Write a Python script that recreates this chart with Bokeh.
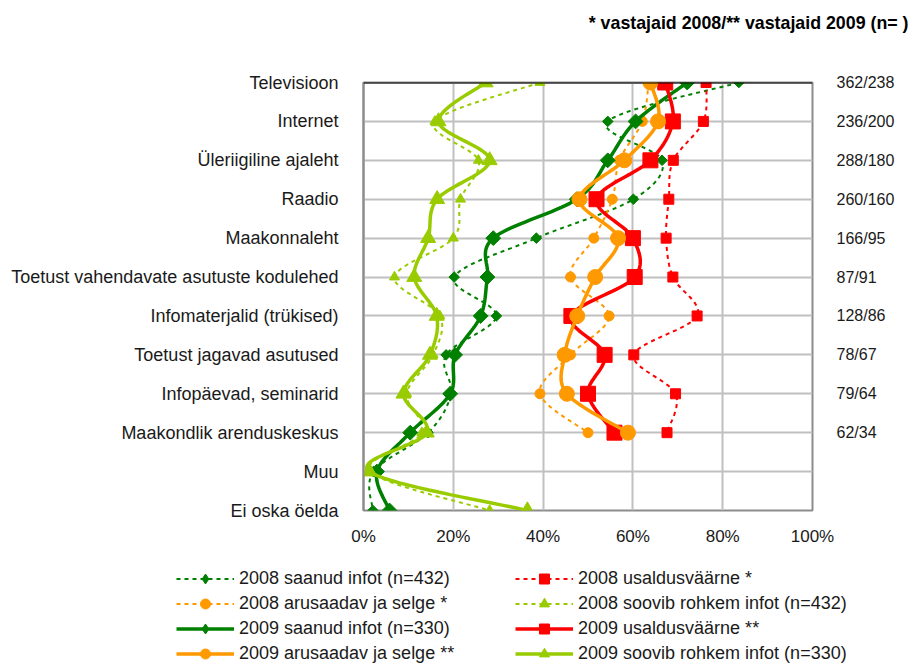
import numpy as np
from bokeh.plotting import figure
from bokeh.layouts import column
from bokeh.models import (Range1d, FixedTicker, Legend, LegendItem, LinearAxis, Span, Label)
from bokeh.embed import file_html
from bokeh.resources import INLINE

# ---------------- data ----------------
categories = ["Televisioon", "Internet", "Üleriigiline ajaleht", "Raadio", "Maakonnaleht",
              "Toetust vahendavate asutuste kodulehed", "Infomaterjalid (trükised)",
              "Toetust jagavad asutused", "Infopäevad, seminarid", "Maakondlik arenduskeskus",
              "Muu", "Ei oska öelda"]
n_labels = ["362/238", "236/200", "288/180", "260/160", "166/95", "87/91", "128/86",
            "78/67", "79/64", "62/34", "", ""]
x_ticks = [0, 20, 40, 60, 80, 100]
x_tick_labels = ["0%", "20%", "40%", "60%", "80%", "100%"]
title_text = "* vastajaid 2008/** vastajaid 2009 (n= )"

saanud_2008 = [83.6, 54.4, 66.5, 60.1, 38.5, 20.2, 29.6, 18.4, 19.5, 14.4, 2.2, 2.1]
usaldus_2008 = [76.3, 75.7, 69.0, 68.0, 67.4, 68.9, 74.3, 60.2, 69.5, 67.6]
arusaadav_2008 = [63.5, 62.1, 57.0, 55.4, 51.3, 46.1, 54.7, 46.1, 39.3, 50.0]
soovib_2008 = [39.3, 15.9, 25.6, 21.6, 20.0, 6.9, 17.0, 15.5, 9.6, 13.0, 1.5, 28.1]
saanud_2009 = [72.1, 60.6, 54.4, 47.5, 28.9, 27.6, 26.1, 20.4, 19.3, 10.4, 3.0, 5.8]
usaldus_2009 = [67.2, 68.9, 63.9, 51.9, 60.0, 60.4, 46.3, 53.7, 50.0, 55.9]
arusaadav_2009 = [63.9, 65.6, 58.1, 48.1, 56.7, 51.6, 47.6, 44.8, 45.3, 58.9]
soovib_2009 = [27.2, 16.7, 28.1, 16.4, 14.4, 11.3, 16.3, 14.8, 8.9, 14.1, 1.3, 36.5]

series = [
    ("2008 saanud infot (n=432)", saanud_2008, "#008000", "diamond", 2008),
    ("2008 usaldusväärne *", usaldus_2008, "#FF0000", "square", 2008),
    ("2008 arusaadav ja selge *", arusaadav_2008, "#FF9900", "circle", 2008),
    ("2008 soovib rohkem infot (n=432)", soovib_2008, "#99CC00", "triangle", 2008),
    ("2009 saanud infot (n=330)", saanud_2009, "#008000", "diamond", 2009),
    ("2009 usaldusväärne **", usaldus_2009, "#FF0000", "square", 2009),
    ("2009 arusaadav ja selge **", arusaadav_2009, "#FF9900", "circle", 2009),
    ("2009 soovib rohkem infot (n=330)", soovib_2009, "#99CC00", "triangle", 2009),
]

FONT = "Liberation Sans"
N = len(categories)
ypos = [N - 1 - i for i in range(N)]
W = 911


def smooth(xs, ys, steps=20):
    pts = np.column_stack([xs, ys]).astype(float)
    n = len(pts)
    out = [pts[0]]
    for i in range(n - 1):
        p0 = pts[i - 1] if i > 0 else pts[i]
        p1 = pts[i]
        p2 = pts[i + 1]
        p3 = pts[i + 2] if i + 2 < n else pts[i + 1]
        c1 = p1 + (p2 - p0) / 6.0
        c2 = p2 - (p3 - p1) / 6.0
        for t in np.linspace(0, 1, steps)[1:]:
            b = ((1 - t) ** 3) * p1 + 3 * ((1 - t) ** 2) * t * c1 + 3 * (1 - t) * t * t * c2 + (t ** 3) * p2
            out.append(b)
    out = np.array(out)
    return out[:, 0], out[:, 1]


def blank_fig(h, x0=0):
    f = figure(width=W, height=h, output_backend="svg", toolbar_location=None,
               x_range=Range1d(x0, x0 + W), y_range=Range1d(0, h),
               x_axis_type=None, y_axis_type=None, frame_align=False,
               min_border=0, min_border_left=0, min_border_right=0,
               min_border_top=0, min_border_bottom=0)
    f.outline_line_color = None
    f.grid.visible = False
    return f


def style_kwargs(color, marker, year):
    if year == 2008:
        lkw = dict(line_color=color, line_width=2, line_dash="4 4")
        if marker == "diamond":
            skw = dict(marker="square", angle=np.pi / 4, size=7.5)
        else:
            skw = dict(marker=marker, size=10)
    else:
        lkw = dict(line_color=color, line_width=3.5)
        if marker == "diamond":
            skw = dict(marker="square", angle=np.pi / 4, size=10.5)
        else:
            skw = dict(marker=marker, size=15)
    skw.update(fill_color=color, line_color=color)
    return lkw, skw


# ---------------- title strip ----------------
top = blank_fig(40)
top.add_layout(Label(x=908, y=18, text=title_text, text_align="right", text_baseline="middle",
                     text_font=FONT, text_font_style="bold", text_font_size="17.8px",
                     text_color="black"))

# ---------------- main chart ----------------
p = figure(frame_width=449, frame_height=428, output_backend="svg", toolbar_location=None,
           x_range=Range1d(0, 100), y_range=Range1d(0, N - 1), frame_align=False,
           min_border_left=363, min_border_right=W - 363 - 449, min_border_top=42,
           min_border_bottom=55,
           background_fill_color="white", border_fill_color="white")

p.outline_line_color = "#8c8c8c"
p.outline_line_width = 2

p.xaxis.ticker = FixedTicker(ticks=x_ticks)
p.xaxis.major_label_overrides = {t: l for t, l in zip(x_ticks, x_tick_labels)}
p.xaxis.axis_line_color = None
p.xaxis.major_tick_line_color = None
p.xaxis.minor_tick_line_color = None
p.xaxis.major_label_standoff = 10
p.xaxis.major_label_text_font = FONT
p.xaxis.major_label_text_font_size = "17px"
p.xaxis.major_label_text_color = "#1a1a1a"

p.yaxis.ticker = FixedTicker(ticks=ypos)
p.yaxis.major_label_overrides = {y: c for y, c in zip(ypos, categories)}
p.yaxis.axis_line_color = "#8c8c8c"
p.yaxis.axis_line_width = 2
p.yaxis.major_tick_line_color = None
p.yaxis.minor_tick_line_color = None
p.yaxis.major_label_standoff = 19
p.yaxis.major_label_text_font = FONT
p.yaxis.major_label_text_font_size = "18px"
p.yaxis.major_label_text_color = "#1a1a1a"

raxis = LinearAxis(ticker=FixedTicker(ticks=ypos[:10]),
                   major_label_overrides={y: t for y, t in zip(ypos, n_labels)},
                   axis_line_color=None, major_tick_line_color=None, minor_tick_line_color=None,
                   major_label_standoff=18, major_label_text_font=FONT,
                   major_label_text_font_size="16px", major_label_text_color="#1a1a1a")
p.add_layout(raxis, "right")

p.xgrid.ticker = FixedTicker(ticks=[20, 40, 60, 80])
p.xgrid.grid_line_color = "#C0C0C0"
p.xgrid.grid_line_width = 2
p.ygrid.ticker = FixedTicker(ticks=ypos)
p.ygrid.grid_line_color = "#C0C0C0"
p.ygrid.grid_line_width = 2

p.add_layout(Span(location=N - 1, dimension="width", line_color="black", line_width=2))

# ---------------- legend strip ----------------
# x range is shifted so that the proxy renderers (same data) fall outside the visible area
leg = blank_fig(101, x0=1000)

col1, col2 = [], []
for name, vals, color, marker, year in series:
    ys = ypos[:len(vals)]
    sx, sy = smooth(vals, ys)
    lkw, skw = style_kwargs(color, marker, year)
    p.line(sx, sy, **lkw)
    p.scatter(vals, ys, **skw)
    lr = leg.line(vals, ys, **lkw)
    lskw = dict(skw)
    if marker == "diamond":
        lskw.pop("angle")
        lskw["marker"] = "diamond"
    sr = leg.scatter(vals, ys, **lskw)
    item = LegendItem(label=name, renderers=[lr, sr])
    if "saanud" in name or "arusaadav" in name:
        col1.append(item)
    else:
        col2.append(item)

for items, xloc in ((col1, 176), (col2, 515)):
    lg = Legend(items=items, location=(xloc, 0), orientation="vertical",
                glyph_width=58, glyph_height=25, label_height=25, spacing=0,
                label_standoff=5, padding=0, margin=0,
                border_line_color=None, background_fill_alpha=0,
                label_text_font=FONT, label_text_font_size="18px",
                label_text_color="#1a1a1a")
    leg.add_layout(lg, "center")

layout = column(top, p, leg, spacing=0)
open("out.html", "w").write(file_html(layout, INLINE))
